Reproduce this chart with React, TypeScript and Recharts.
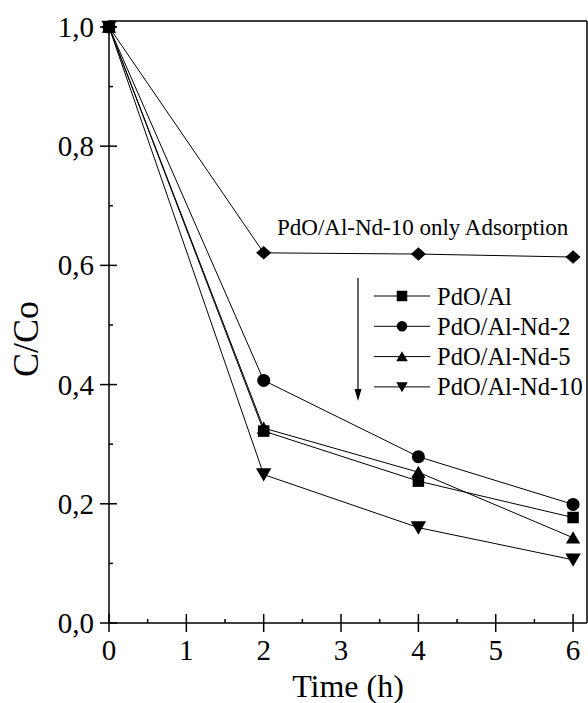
import React from "react";
import { LineChart, Line, XAxis, YAxis, Legend } from "recharts";

const times = [0, 2, 4, 6];
const pdoAl = [1.0, 0.322, 0.238, 0.177];
const pdoAlNd2 = [1.0, 0.407, 0.279, 0.199];
const pdoAlNd5 = [1.0, 0.327, 0.253, 0.143];
const pdoAlNd10 = [1.0, 0.249, 0.16, 0.106];
const adsorptionOnly = [1.0, 0.621, 0.619, 0.614];

const xTicks = [0, 0.5, 1, 1.5, 2, 2.5, 3, 3.5, 4, 4.5, 5, 5.5, 6];
const yTicks = [0, 0.1, 0.2, 0.3, 0.4, 0.5, 0.6, 0.7, 0.8, 0.9, 1.0];
const legendOrder = ["pdoAl", "nd2", "nd5", "nd10"];

const data = times.map((t, i) => ({
  time: t,
  pdoAl: pdoAl[i],
  nd2: pdoAlNd2[i],
  nd5: pdoAlNd5[i],
  nd10: pdoAlNd10[i],
  ads: adsorptionOnly[i],
}));

const FONT = "'Liberation Serif', 'Times New Roman', serif";

const shapes: Record<string, string> = {
  pdoAl: "square",
  nd2: "circle",
  nd5: "up",
  nd10: "down",
  ads: "diamond",
};

function Marker({ shape, cx, cy, s }: { shape: string; cx: number; cy: number; s: number }) {
  if (cx == null || cy == null) return null;
  if (shape === "square")
    return <rect x={cx - s / 2} y={cy - s / 2} width={s} height={s} fill="#000" />;
  if (shape === "circle") return <circle cx={cx} cy={cy} r={s / 2} fill="#000" />;
  if (shape === "up")
    return (
      <polygon
        points={`${cx},${cy - s * 0.5} ${cx + s * 0.55},${cy + s * 0.45} ${cx - s * 0.55},${cy + s * 0.45}`}
        fill="#000"
      />
    );
  if (shape === "down")
    return (
      <polygon
        points={`${cx},${cy + s * 0.5} ${cx + s * 0.55},${cy - s * 0.45} ${cx - s * 0.55},${cy - s * 0.45}`}
        fill="#000"
      />
    );
  return (
    <polygon
      points={`${cx},${cy - s * 0.45} ${cx + s * 0.5},${cy} ${cx},${cy + s * 0.45} ${cx - s * 0.5},${cy}`}
      fill="#000"
    />
  );
}

const dotFor = (key: string, s: number) => (p: any) =>
  <Marker key={`${key}-${p.index}`} shape={shapes[key]} cx={p.cx} cy={p.cy} s={s} />;

function YTick(props: any) {
  const { x, y, payload } = props;
  const v = payload.value;
  const major = Math.round(v * 10) % 2 === 0;
  if (!major) return <line x1={x} x2={x + 4} y1={y} y2={y} stroke="#000" strokeWidth={1.5} />;
  return (
    <g>
      <line x1={x - 9} x2={x + 8} y1={y} y2={y} stroke="#000" strokeWidth={1.5} />
      <text x={x - 15} y={y + 10} textAnchor="end" fontSize={29} fontFamily={FONT} fill="#000">
        {v.toFixed(1).replace(".", ",")}
      </text>
    </g>
  );
}

function XTick(props: any) {
  const { x, y, payload } = props;
  const v = payload.value;
  if (v % 1 !== 0) return <line x1={x} x2={x} y1={y - 4} y2={y} stroke="#000" strokeWidth={1.5} />;
  return (
    <g>
      <line x1={x} x2={x} y1={y - 9} y2={y + 9} stroke="#000" strokeWidth={1.5} />
      <text x={x} y={y + 37} textAnchor="middle" fontSize={29} fontFamily={FONT} fill="#000">
        {v}
      </text>
    </g>
  );
}

function LegendBox(props: any) {
  const items = (props.payload || [])
    .filter((e: any) => e.type !== "none")
    .sort((a: any, b: any) => legendOrder.indexOf(a.dataKey) - legendOrder.indexOf(b.dataKey));
  return (
    <svg width={320} height={200} style={{ overflow: "visible" }}>
      <text x={9} y={30} fontSize={23} fontFamily={FONT} fill="#000">
        PdO/Al-Nd-10 only Adsorption
      </text>
      <line x1={90} x2={90} y1={73} y2={190} stroke="#000" strokeWidth={1.2} />
      <polygon points="86.5,184 93.5,184 90,196" fill="#000" />
      {items.map((e: any, i: number) => {
        const cy = 91 + i * 30.3;
        return (
          <g key={e.value}>
            <line x1={106} x2={162} y1={cy} y2={cy} stroke="#000" strokeWidth={1} />
            <Marker shape={shapes[e.dataKey]} cx={134} cy={cy} s={10.5} />
            <text x={169} y={cy + 8.5} fontSize={24.5} fontFamily={FONT} fill="#000">
              {e.value}
            </text>
          </g>
        );
      })}
    </svg>
  );
}

export default function App() {
  return (
    <div style={{ position: "absolute", left: 0, top: 0, width: 588, height: 703, background: "#fff" }}>
      <LineChart
        width={588}
        height={703}
        data={data}
        margin={{ top: 20, right: 0, left: 108, bottom: 79 }}
      >
        <XAxis
          dataKey="time"
          type="number"
          domain={[0, 6.18]}
          ticks={xTicks}
          interval={0}
          height={1}
          tickSize={0}
          tickMargin={0}
          tickLine={false}
          axisLine={{ stroke: "#000", strokeWidth: 1.5 }}
          tick={<XTick />}
          label={{
            content: () => (
              <text x={348} y={697} textAnchor="middle" fontSize={32} fontFamily={FONT} fill="#000">
                Time (h)
              </text>
            ),
          }}
        />
        <XAxis
          xAxisId="top"
          orientation="top"
          type="number"
          domain={[0, 6.18]}
          height={1}
          tick={false}
          tickLine={false}
          axisLine={{ stroke: "#000", strokeWidth: 1.5 }}
        />
        <YAxis
          type="number"
          domain={[0, 1.01]}
          ticks={yTicks}
          interval={0}
          width={1}
          tickSize={0}
          tickMargin={0}
          tickLine={false}
          axisLine={{ stroke: "#000", strokeWidth: 1.5 }}
          tick={<YTick />}
          label={{
            content: () => (
              <text
                transform="translate(38,339) rotate(-90)"
                textAnchor="middle"
                fontSize={36}
                fontFamily={FONT}
                fill="#000"
              >
                C/Co
              </text>
            ),
          }}
        />
        <YAxis
          yAxisId="right"
          orientation="right"
          type="number"
          domain={[0, 1.01]}
          width={1}
          tick={false}
          tickLine={false}
          axisLine={{ stroke: "#000", strokeWidth: 1.5 }}
        />
        <Legend
          layout="vertical"
          align="center"
          verticalAlign="middle"
          content={<LegendBox />}
          wrapperStyle={{ left: 268, top: 205, width: 320, height: 200 }}
        />
        <Line dataKey="ads" name="PdO/Al-Nd-10 only Adsorption" legendType="none" stroke="#000" strokeWidth={1} dot={dotFor("ads", 15)} isAnimationActive={false} />
        <Line dataKey="pdoAl" name="PdO/Al" stroke="#000" strokeWidth={1} dot={dotFor("pdoAl", 11.5)} isAnimationActive={false} />
        <Line dataKey="nd2" name="PdO/Al-Nd-2" stroke="#000" strokeWidth={1} dot={dotFor("nd2", 13)} isAnimationActive={false} />
        <Line dataKey="nd5" name="PdO/Al-Nd-5" stroke="#000" strokeWidth={1} dot={dotFor("nd5", 13)} isAnimationActive={false} />
        <Line dataKey="nd10" name="PdO/Al-Nd-10" stroke="#000" strokeWidth={1} dot={dotFor("nd10", 14)} isAnimationActive={false} />
      </LineChart>
    </div>
  );
}
